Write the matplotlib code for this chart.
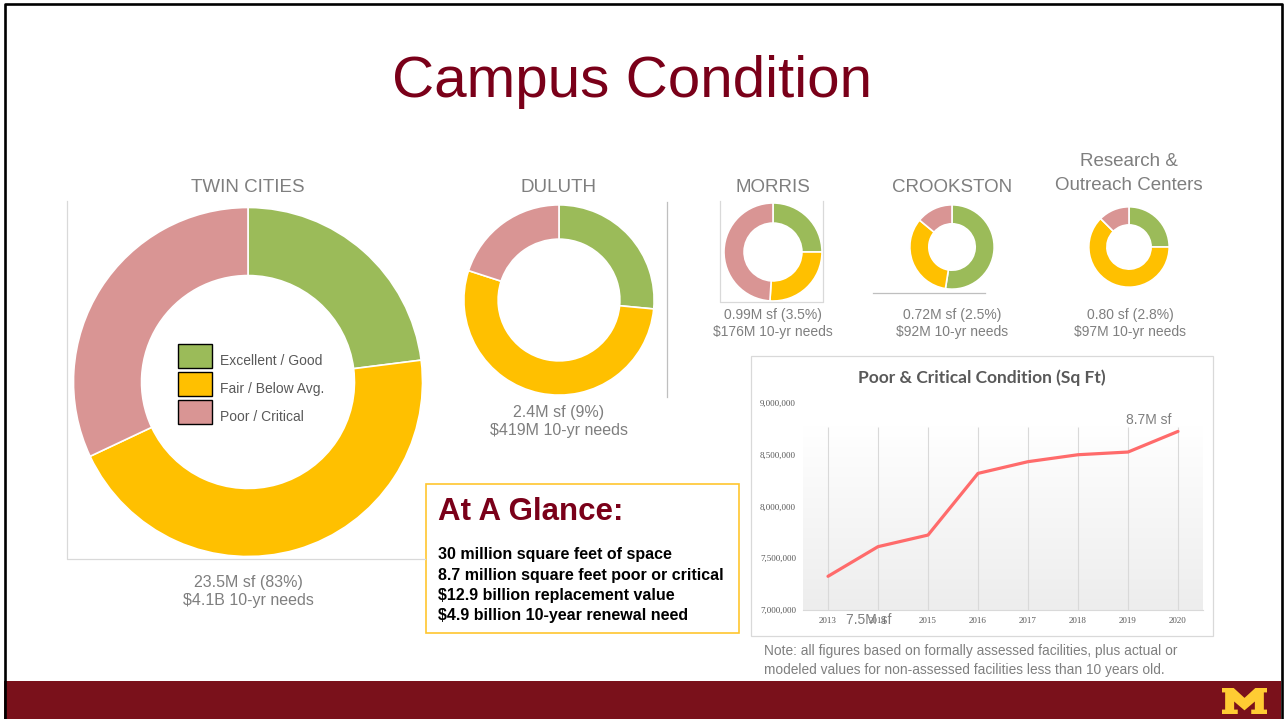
import numpy as np
import matplotlib.pyplot as plt
from matplotlib.patches import Rectangle, Polygon
from matplotlib.colors import LinearSegmentedColormap

# condition categories
categories = ['Excellent / Good', 'Fair / Below Avg.', 'Poor / Critical']
cond_colors = ['#9BBB59', '#FFC000', '#D99594']

# share of space per condition (%)
twin_cities = [23, 45, 32]
duluth = [26.5, 53.5, 20]
morris = [25, 26, 49]
crookston = [52.5, 33.5, 14]
research = [25, 62.5, 12.5]

# poor & critical square feet by year
years = ['2013', '2014', '2015', '2016', '2017', '2018', '2019', '2020']
poor_sqft = [7325000, 7611000, 7723000, 8318000, 8431000, 8498000, 8524000, 8723000]

glance = ['30 million square feet of space',
          '8.7 million square feet poor or critical',
          '$12.9 billion replacement value',
          '$4.9 billion 10-year renewal need']

MAROON = '#7A0019'
GRAY = '#7F7F7F'
W, H = 1284, 719

plt.rcParams['font.family'] = ['Liberation Sans', 'DejaVu Sans']

fig = plt.figure(figsize=(W / 100, H / 100), dpi=100)
fig.patch.set_facecolor('white')


def px_axes(left, top, width, height):
    return fig.add_axes([left / W, 1 - (top + height) / H, width / W, height / H])


def donut(cx, cy, r, vals, width):
    ax = px_axes(cx - r, cy - r, 2 * r, 2 * r)
    ax.pie(vals, colors=cond_colors, startangle=90, counterclock=False, radius=1,
           wedgeprops=dict(width=width, edgecolor='white', linewidth=1.2))
    ax.set_xlim(-1.02, 1.02)
    ax.set_ylim(-1.02, 1.02)
    ax.patch.set_visible(False)
    return ax


donut(248, 382, 178, twin_cities, 0.39)
donut(559, 300, 97, duluth, 0.36)
donut(773, 252, 50, morris, 0.41)
donut(952, 247, 43, crookston, 0.45)
donut(1129, 247, 41, research, 0.45)

# line chart
lx = px_axes(803, 402.7, 400, 207.3)
x = np.arange(len(years))
grad = np.linspace(0.0, 1.0, 256).reshape(-1, 1)
lx.imshow(grad, extent=[-0.5, 7.5, 7000000, 8770000], aspect='auto',
          cmap=LinearSegmentedColormap.from_list('g', ['#EDEDED', '#FFFFFF']),
          origin='lower', zorder=0)
lx.vlines(x, 7000000, 8770000, color='#D9D9D9', linewidth=0.8, zorder=1)
lx.plot(x, poor_sqft, color='#FF6B6B', linewidth=2.3, solid_capstyle='round', zorder=3)
lx.set_xlim(-0.5, 7.5)
lx.set_ylim(7000000, 9000000)
lx.set_xticks(x)
lx.set_xticklabels(years)
yt = [7000000, 7500000, 8000000, 8500000, 9000000]
lx.set_yticks(yt)
lx.set_yticklabels(['{:,}'.format(v) for v in yt])
lx.tick_params(length=0, labelsize=6.5, labelcolor='#595959', pad=5)
for lab in lx.get_xticklabels() + lx.get_yticklabels():
    lab.set_family('Liberation Serif')
for s in ['top', 'left', 'right']:
    lx.spines[s].set_visible(False)
lx.spines['bottom'].set_color('#D9D9D9')
lx.patch.set_visible(False)

# overlay in pixel coordinates
ov = fig.add_axes([0, 0, 1, 1])
ov.set_xlim(0, W)
ov.set_ylim(H, 0)
ov.axis('off')
ov.patch.set_visible(False)
ov.set_zorder(5)

# slide border and footer
ov.add_patch(Rectangle((4, 681), 1277, 38, facecolor='#7A111B', edgecolor='none'))
ov.plot([5, 5, 1281.5, 1281.5], [719, 3.5, 3.5, 719], color='black', linewidth=1.9)
m = np.array([(0, 0), (0.35, 0), (0.35, 0.17), (0.27, 0.17), (0.27, 0.48), (0.5, 0.14),
              (0.73, 0.48), (0.73, 0.17), (0.65, 0.17), (0.65, 0), (1, 0), (1, 0.17),
              (0.93, 0.17), (0.93, 0.83), (1, 0.83), (1, 1), (0.74, 1), (0.5, 0.62),
              (0.26, 1), (0, 1), (0, 0.83), (0.07, 0.83), (0.07, 0.17), (0, 0.17)])
ov.add_patch(Polygon(np.column_stack([1222 + m[:, 0] * 45, 714 - m[:, 1] * 26]),
                     closed=True, facecolor='#FFCC33', edgecolor='none'))

ov.text(632, 82, 'Campus Condition', fontsize=42, color=MAROON, ha='center', va='center')

# frames around donuts
fc = '#D9D9D9'
ov.plot([67, 67, 425], [201, 559, 559], color=fc, linewidth=0.9)
ov.plot([666.5, 666.5], [202, 397], color='#BFBFBF', linewidth=0.9)
ov.plot([720, 720, 823, 823], [201, 302, 302, 201], color=fc, linewidth=0.9)
ov.plot([873, 985], [293, 293], color='#BFBFBF', linewidth=0.9)

# donut titles and labels
tkw = dict(fontsize=13.5, color=GRAY, ha='center', va='center')
ov.text(248, 187, 'TWIN CITIES', **tkw)
ov.text(559, 187, 'DULUTH', **tkw)
ov.text(773, 187, 'MORRIS', **tkw)
ov.text(952, 187, 'CROOKSTON', **tkw)
ov.text(1129, 161, 'Research &', **tkw)
ov.text(1129, 185, 'Outreach Centers', **tkw)

bkw = dict(fontsize=11.5, color=GRAY, ha='center', va='center')
ov.text(248, 582, '23.5M sf (83%)', **bkw)
ov.text(248, 601, '$4.1B 10-yr needs', **bkw)
ov.text(559, 412, '2.4M sf (9%)', **bkw)
ov.text(559, 431, '$419M 10-yr needs', **bkw)
skw = dict(fontsize=10, color=GRAY, ha='center', va='center')
ov.text(773, 315, '0.99M sf (3.5%)', **skw)
ov.text(773, 332, '$176M 10-yr needs', **skw)
ov.text(952, 315, '0.72M sf (2.5%)', **skw)
ov.text(952, 332, '$92M 10-yr needs', **skw)
ov.text(1130, 315, '0.80 sf (2.8%)', **skw)
ov.text(1130, 332, '$97M 10-yr needs', **skw)

# legend in twin cities hole
for i, (lab, col) in enumerate(zip(categories, cond_colors)):
    top = 344 + i * 28
    ov.add_patch(Rectangle((177.5, top), 34.5, 23.5, facecolor=col, edgecolor='black', linewidth=1.0))
    ov.text(220, top + 17, lab, fontsize=10, color='#595959', ha='left', va='center')

# at a glance box
ov.add_patch(Rectangle((425.5, 483.5), 313, 149.5, facecolor='white', edgecolor='#FFC62F', linewidth=1.2))
ov.text(438, 512, 'At A Glance:', fontsize=22.5, fontweight='bold', color=MAROON, ha='left', va='center')
for i, line in enumerate(glance):
    ov.text(438, 555 + i * 20.3, line, fontsize=11.5, fontweight='bold', color='black', ha='left', va='center')

# line chart frame and texts
ov.add_patch(Rectangle((751, 355.5), 462, 280.5, facecolor='none', edgecolor='#D9D9D9', linewidth=0.9))
ov.text(982, 378, 'Poor & Critical Condition (Sq Ft)', fontsize=12.5, fontweight='bold', color='#595959',
        ha='center', va='center', family='Lato')
ov.text(1149, 420, '8.7M sf', fontsize=10, color=GRAY, ha='center', va='center')
ov.text(869, 620, '7.5M sf', fontsize=10, color=GRAY, ha='center', va='center')

ov.text(764, 651, 'Note: all figures based on formally assessed facilities, plus actual or',
        fontsize=9.9, color=GRAY, ha='left', va='center')
ov.text(764, 670, 'modeled values for non-assessed facilities less than 10 years old.',
        fontsize=9.9, color=GRAY, ha='left', va='center')

fig.savefig('out.png', dpi=100)
